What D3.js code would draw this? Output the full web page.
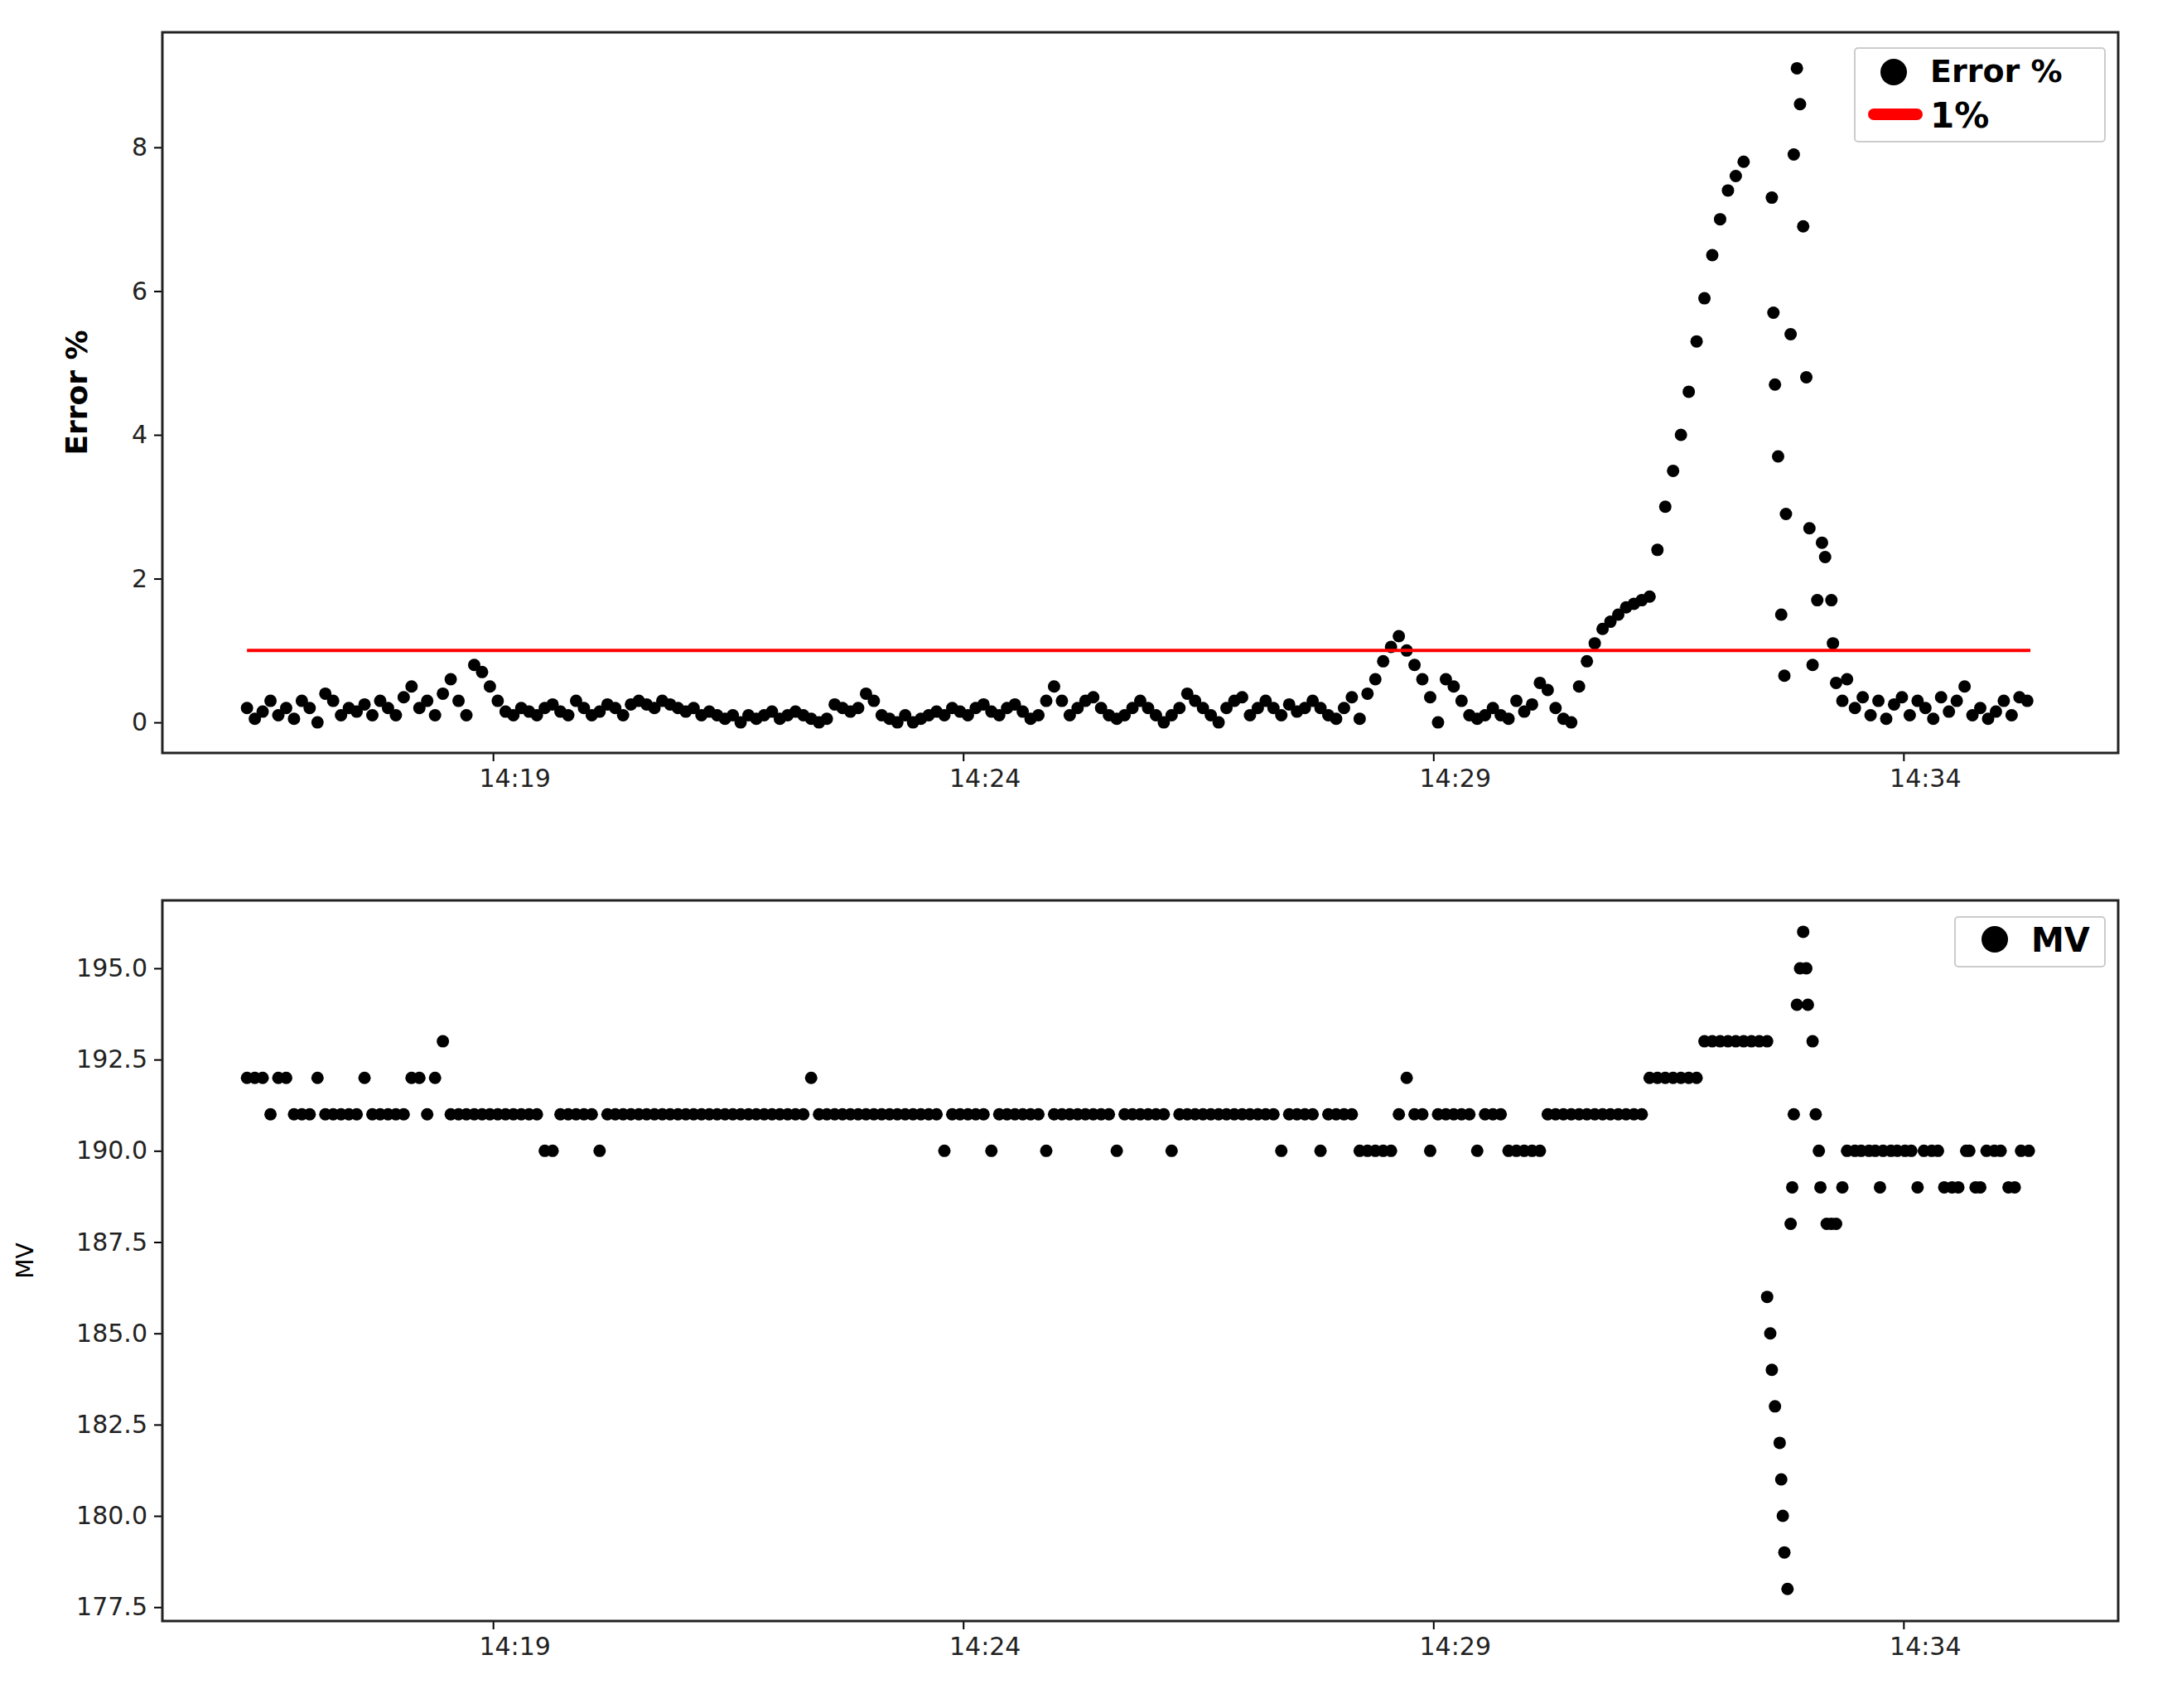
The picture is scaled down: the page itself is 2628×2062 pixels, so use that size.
<!DOCTYPE html>
<html>
<head>
<meta charset="utf-8">
<script src="https://cdn.jsdelivr.net/npm/d3@7"></script>
<style>
  body { margin: 0; background: #fff; }
  text { font-family: "DejaVu Sans", sans-serif; }
</style>
</head>
<body>
<svg id="chart" width="2628" height="2062"></svg>
<script>
// samples every 5 s, first one at 14:16:23
const startSec = 23
const stepSec = 5

// Error % (regular samples up to the peak)
const errBase = [
  0.2,0.05,0.15,0.3,0.1,0.2,0.05,0.3,0.2,0.0,0.4,0.3,0.1,0.2,0.15,0.25,0.1,0.3,0.2,0.1,0.35,0.5,0.2,0.3,0.1,0.4,0.6,0.3,0.1,0.8,0.7,
  0.5,0.3,0.15,0.1,0.2,0.15,0.1,0.2,0.25,0.15,0.1,0.3,0.2,0.1,0.15,0.25,0.2,0.1,0.25,0.3,
  0.25,0.2,0.3,0.25,0.2,0.15,0.2,0.1,0.15,0.1,0.05,0.1,0.0,0.1,0.05,0.1,0.15,0.05,0.1,0.15,
  0.1,0.05,0.0,0.05,0.25,0.2,0.15,0.2,0.4,0.3,0.1,0.05,0.0,
  0.1,0.0,0.05,0.1,0.15,0.1,0.2,0.15,0.1,0.2,0.25,0.15,0.1,0.2,0.25,0.15,0.05,0.1,0.3,0.5,
  0.3,0.1,0.2,0.3,0.35,0.2,0.1,0.05,0.1,0.2,0.3,0.2,0.1,0.0,0.1,0.2,0.4,0.3,0.2,0.1,
  0.0,0.2,0.3,0.35,0.1,0.2,0.3,0.2,0.1,0.25,0.15,0.2,0.3,0.2,0.1,0.05,0.2,0.35,0.05,
  0.4,0.6,0.85,1.05,1.2,1.0,0.8,0.6,0.35,0.0,0.6,0.5,0.3,0.1,0.05,0.1,0.2,0.1,0.05,0.3,
  0.15,0.25,0.55,0.45,0.2,0.05,0.0,
  0.5,0.85,1.1,1.3,1.4,1.5,1.6,1.65,1.7,1.75,
  2.4,3.0,3.5,4.0,4.6,5.3,5.9,6.5,7.0,7.4,7.6,7.8
]
// scattered points around the peak: [seconds after 14:16, value]
const errPeak = [
  [996,7.3],[997,5.7],[998,4.7],[1000,3.7],[1002,1.5],[1004,0.65],[1005,2.9],[1008,5.4],
  [1010,7.9],[1012,9.1],[1014,8.6],[1016,6.9],[1018,4.8],[1020,2.7],[1022,0.8],[1025,1.7],
  [1028,2.5],[1030,2.3],[1034,1.7],[1035,1.1],[1037,0.55],[1041,0.3],[1044,0.6]
]
const errTailStart = 1049
const errTail = [
  0.2,0.35,0.1,0.3,0.05,0.25,0.35,0.1,0.3,0.2,0.05,0.35,0.15,0.3,0.5,0.1,0.2,0.05,0.15,0.3,0.1,0.35,0.3
]
const threshold = 1

// MV
const mvBase = [
  192,192,192,191,192,192,191,191,191,192,191,191,191,191,191,192,191,191,191,191,191,192,192,191,192,193,
  191,191,191,191,191,191,191,191,191,191,191,191,190,190,191,191,191,191,191,190,
  191,191,191,191,191,191,191,191,191,191,191,191,191,191,191,191,191,191,191,191,191,191,191,191,191,191,
  192,191,191,191,191,191,191,191,191,191,191,191,191,191,191,191,191,190,191,191,191,191,191,190,
  191,191,191,191,191,191,190,191,191,191,191,191,191,191,191,190,191,191,191,191,191,191,190,
  191,191,191,191,191,191,191,191,191,191,191,191,191,190,191,191,191,191,190,191,191,191,191,
  190,190,190,190,190,191,192,191,191,190,191,191,191,191,191,190,191,191,191,190,190,190,190,190,
  191,191,191,191,191,191,191,191,191,191,191,191,191,192,192,192,192,192,192,192,
  193,193,193,193,193,193,193,193,193
]
const mvTail = [
  [993,186],[995,185],[996,184],[998,183],[1001,182],[1002,181],[1003,180],[1004,179],[1006,178],
  [1008,188],[1009,189],[1010,191],[1012,194],[1014,195],[1016,196],[1018,195],[1019,194],[1022,193],
  [1024,191],[1026,190],[1027,189],[1031,188],[1034,188],[1037,188],[1041,189],[1044,190],[1049,190],
  [1053,190],[1058,190],[1062,190],[1065,189],[1067,190],[1072,190],[1076,190],[1081,190],[1085,190],
  [1089,189],[1093,190],[1098,190],[1102,190],[1106,189],[1111,189],[1115,189],[1120,190],[1122,190],
  [1126,189],[1129,189],[1133,190],[1138,190],[1142,190],[1147,189],[1151,189],[1155,190],[1160,190]
]

const xTicks = ['14:19', '14:24', '14:29', '14:34']
const errTicks = [0, 2, 4, 6, 8]
const mvTicks = [177.5, 180, 182.5, 185, 187.5, 190, 192.5, 195]

const base = new Date(2020, 0, 1, 14, 16, 0)
const toDate = s => new Date(base.getTime() + s * 1000)
const parseHM = d3.timeParse('%H:%M')
const tickDate = hm => { const p = parseHM(hm); return new Date(2020, 0, 1, p.getHours(), p.getMinutes()) }

const errPts = errBase.map((v, i) => [startSec + i * stepSec, v])
  .concat(errPeak)
  .concat(errTail.map((v, i) => [errTailStart + i * stepSec, v]))
const mvPts = mvBase.map((v, i) => [startSec + i * stepSec, v]).concat(mvTail)

const svg = d3.select('#chart')
const left = 196, right = 2557

const x = d3.scaleTime().domain([toDate(-31), toDate(1217)]).range([left, right])

function panel(top, bottom, yDomain, yTicks, yFmt, pts, label, labelBold) {
  const y = d3.scaleLinear().domain(yDomain).range([bottom, top])
  const g = svg.append('g')

  g.selectAll('circle').data(pts).enter().append('circle')
    .attr('cx', d => x(toDate(d[0])))
    .attr('cy', d => y(d[1]))
    .attr('r', 7.5)
    .attr('fill', '#000')

  const ya = g.append('g').attr('transform', `translate(${left},0)`)
    .call(d3.axisLeft(y).tickValues(yTicks).tickFormat(yFmt).tickSize(10).tickPadding(8))
  const xa = g.append('g').attr('transform', `translate(0,${bottom})`)
    .call(d3.axisBottom(x).tickValues(xTicks.map(tickDate)).tickFormat(d3.timeFormat('%H:%M')).tickSize(10).tickPadding(10))
  for (const a of [ya, xa]) {
    a.selectAll('text').attr('font-size', 30).attr('fill', '#222').attr('font-family', 'DejaVu Sans')
    a.select('.domain').remove()
    a.selectAll('line').attr('stroke-width', 2)
  }
  xa.selectAll('text').attr('dx', 26)

  g.append('rect').attr('x', left).attr('y', top).attr('width', right - left).attr('height', bottom - top)
    .attr('fill', 'none').attr('stroke', '#222').attr('stroke-width', 3)

  g.append('text')
    .attr('transform', `translate(${labelBold ? 105 : 40},${(top + bottom) / 2}) rotate(-90)`)
    .attr('text-anchor', 'middle')
    .attr('font-size', labelBold ? 36 : 28)
    .attr('font-weight', labelBold ? 'bold' : 'normal')
    .text(label)
  return { g, y }
}

const p1 = panel(39, 909, [-0.425, 9.6], errTicks, d3.format('d'), errPts, 'Error %', true)
p1.g.append('line')
  .attr('x1', x(toDate(startSec))).attr('x2', x(toDate(1161)))
  .attr('y1', p1.y(threshold)).attr('y2', p1.y(threshold))
  .attr('stroke', 'red').attr('stroke-width', 4)

const p2 = panel(1087, 1957, [177.12, 196.86], mvTicks, d3.format('.1f'), mvPts, 'MV', false)

// legends
const lg1 = svg.append('g')
lg1.append('rect').attr('x', 2239).attr('y', 58).attr('width', 302).attr('height', 113).attr('rx', 4)
  .attr('fill', '#fff').attr('stroke', '#ccc').attr('stroke-width', 2)
lg1.append('circle').attr('cx', 2286).attr('cy', 87).attr('r', 16).attr('fill', '#000')
lg1.append('text').attr('x', 2330).attr('y', 99).attr('font-size', 38).attr('font-weight', 'bold').text('Error %')
lg1.append('line').attr('x1', 2262).attr('x2', 2314).attr('y1', 138).attr('y2', 138)
  .attr('stroke', 'red').attr('stroke-width', 14).attr('stroke-linecap', 'round')
lg1.append('text').attr('x', 2330).attr('y', 154).attr('font-size', 42).attr('font-weight', 'bold').text('1%')

const lg2 = svg.append('g')
lg2.append('rect').attr('x', 2360).attr('y', 1107).attr('width', 181).attr('height', 60).attr('rx', 4)
  .attr('fill', '#fff').attr('stroke', '#ccc').attr('stroke-width', 2)
lg2.append('circle').attr('cx', 2408).attr('cy', 1134).attr('r', 16).attr('fill', '#000')
lg2.append('text').attr('x', 2452).attr('y', 1149).attr('font-size', 40).attr('font-weight', 'bold').text('MV')
</script>
</body>
</html>
